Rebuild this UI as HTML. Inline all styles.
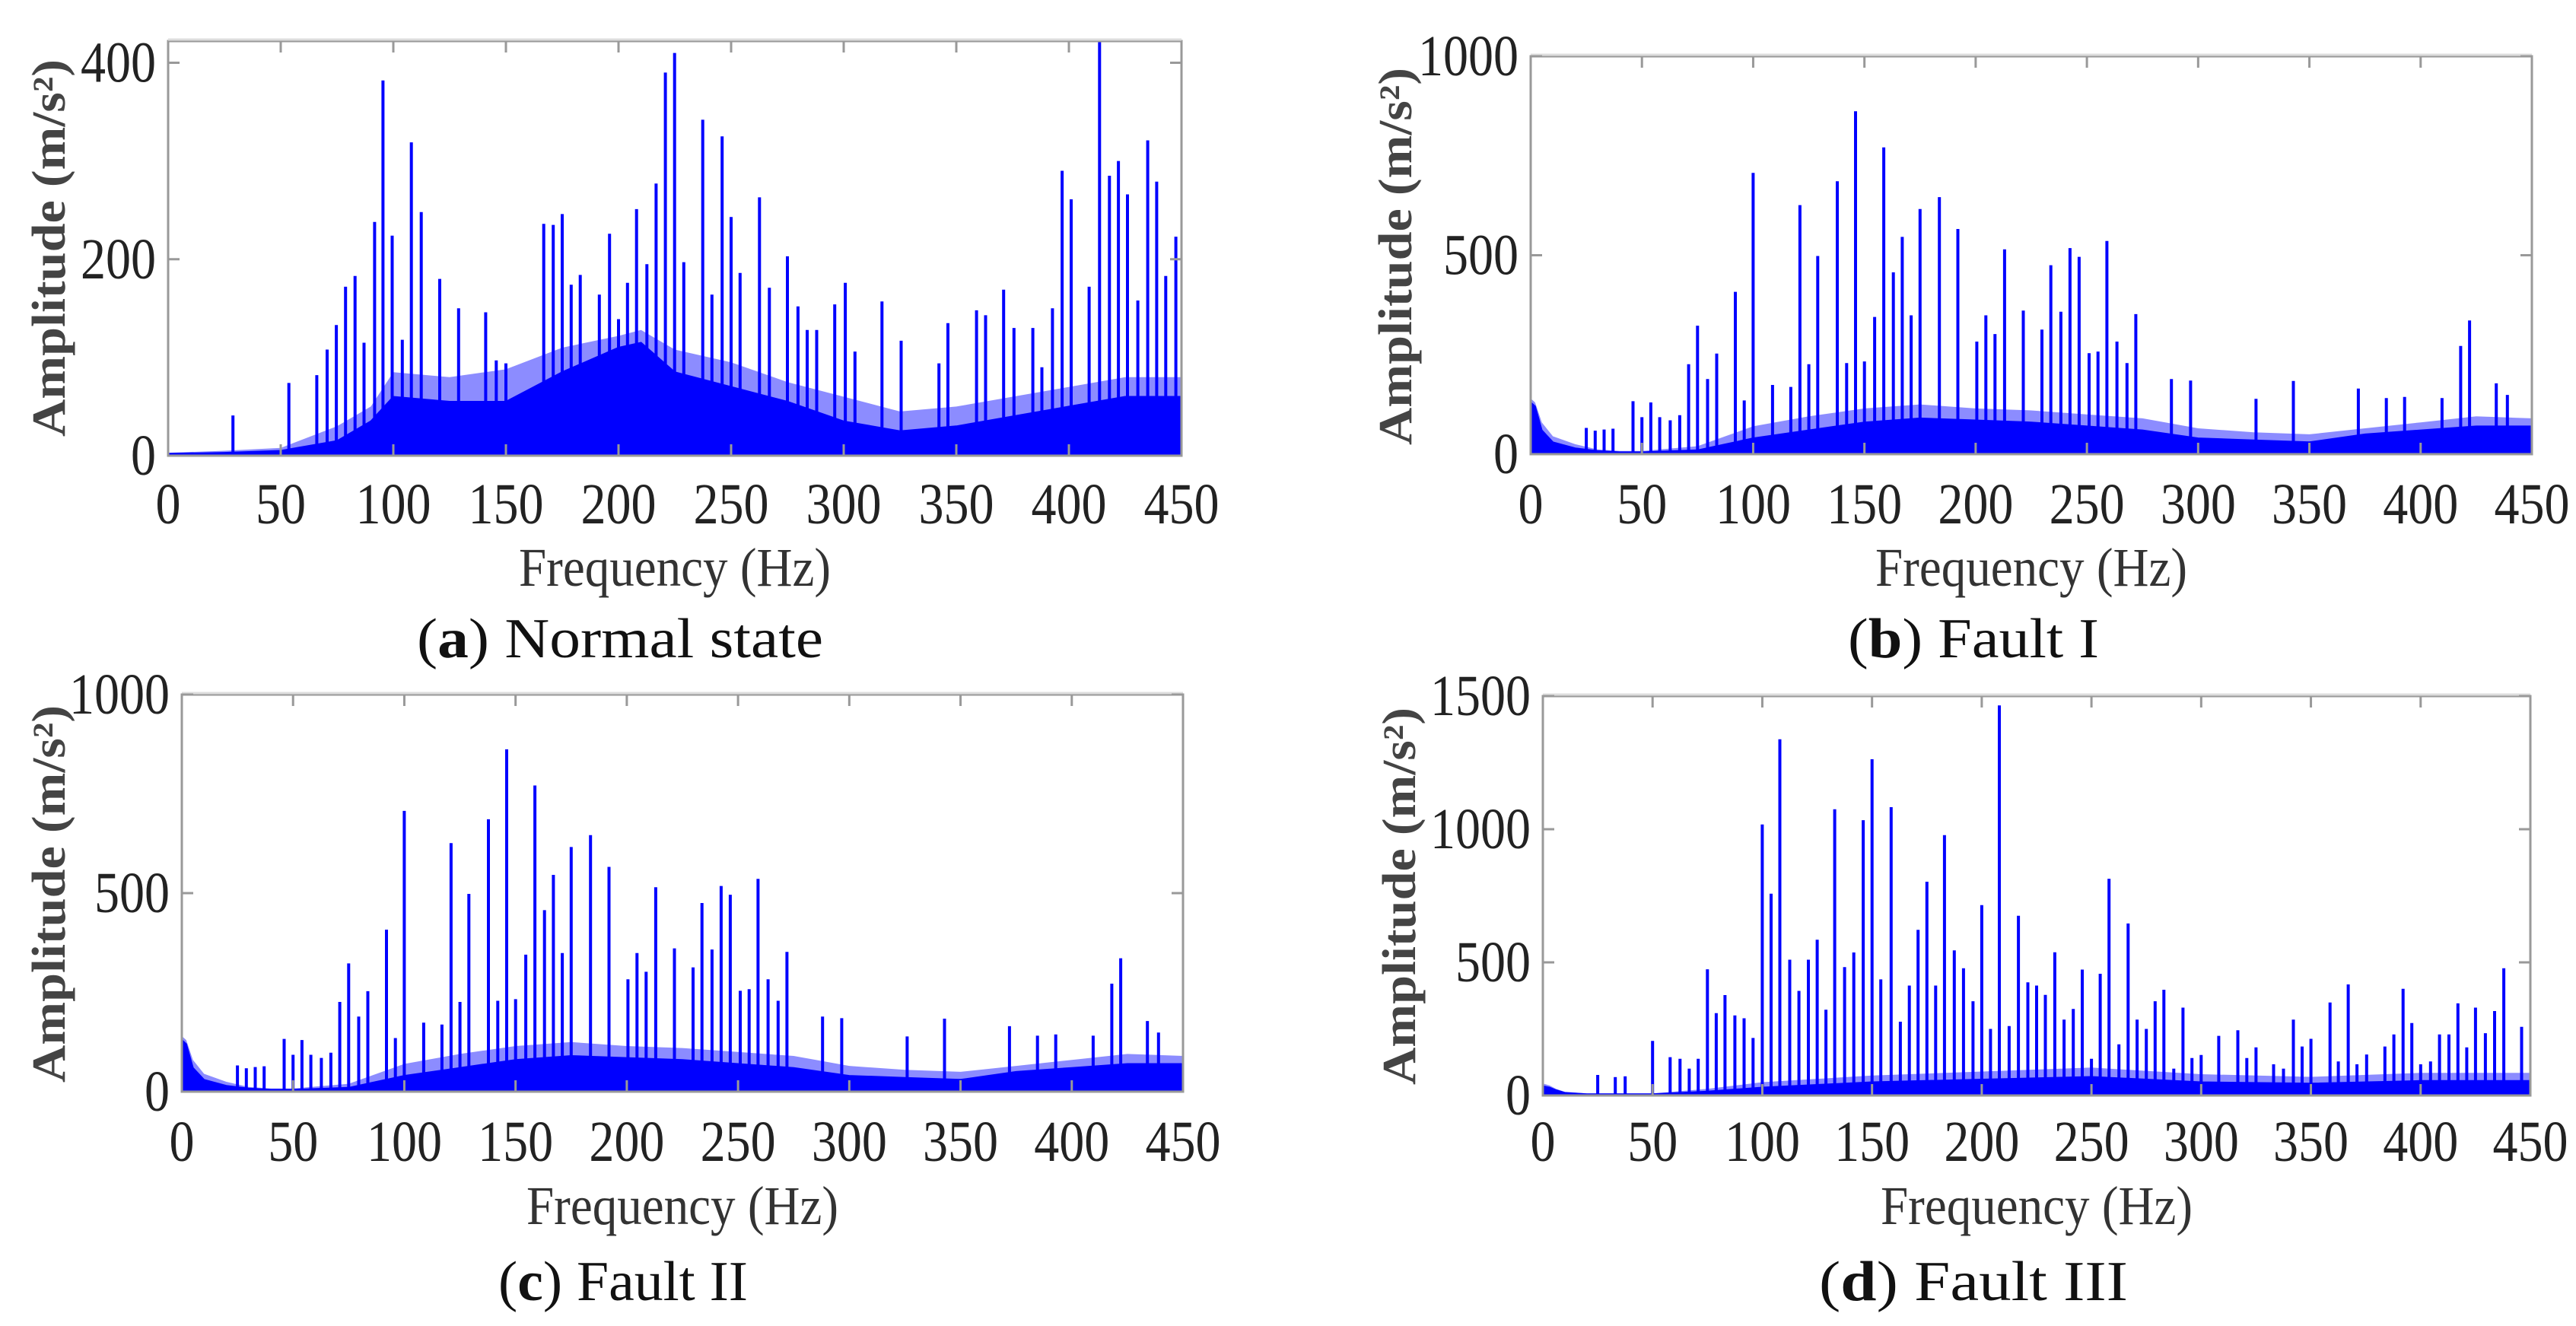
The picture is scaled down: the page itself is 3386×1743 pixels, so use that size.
<!DOCTYPE html>
<html><head><meta charset="utf-8"><style>
html,body{margin:0;padding:0;background:#fff;}
svg{display:block;}
text{font-family:"Liberation Serif",serif;}
</style></head>
<body>
<svg id="fig" width="3386" height="1743" viewBox="0 0 3386 1743" xmlns="http://www.w3.org/2000/svg"></svg>
<script>
// ---------- DATA ----------
const xTicks = [0,50,100,150,200,250,300,350,400,450];
const aYTicks = [0,200,400];
const bYTicks = [0,500,1000];
const dYTicks = [0,500,1000,1500];

// (a) Normal state
const aPeakFreq = [28.8,53.6,66,70.6,74.7,78.8,83,87,91.7,95.4,99.5,104,108,112.4,120.6,129,141,145.7,150,166.8,171,175,179,183,191.5,196,200,204,208,212.6,216.7,220.8,224.9,229,237.4,241.5,246,250,254,262.6,267,275,279.7,283.8,288,296,300.7,305,317,325.5,342.3,346.3,359,363,371,375.6,384,388,392.7,397,401,409,413.6,418,422,426,430.6,435,439,443,447.5];
const aPeakAmp  = [41,74,82,108,133,172,183,115,238,382,224,118,319,248,180,150,146,97,94,236,235,246,174,184,164,226,139,176,251,195,277,390,410,197,342,164,325,243,186,263,171,203,152,128,128,154,176,106,157,117,94,135,148,143,169,130,130,90,150,290,261,172,422,285,300,266,158,321,279,183,223];
const aNoiseFreq = [0,25,50,75,90,100,125,150,175,200,210,225,250,275,300,325,350,375,400,425,450];
const aNoiseAmp  = [2,3,5,15,35,60,55,55,85,110,115,85,70,55,35,25,30,40,50,60,60];
const aNoiseTop  = [3,5,8,30,50,85,80,88,110,122,128,108,95,75,60,45,50,60,70,80,80];

// (b) Fault I  and (c) Fault II
const bPeakFreq = [25,29,33,37,46,50,54,58,62.7,67,71,75,79.5,83.6,92,96,100,108.7,116.9,121,125,129,137.8,142,146,150,154.6,158.7,163,167,171,175,183.7,192,200.5,204.6,208.7,213,221.4,229.8,233.8,238.3,242.4,246.5,251,255,259,263.5,268,272,288,296.6,326,342.8,372,384.6,392.8,409.6,418,422,434,439];
const bPeakAmp  = [66,59,62,64,133,93,130,93,85,98,226,323,189,253,408,135,707,174,169,626,226,498,686,229,862,233,345,771,457,546,349,616,646,566,283,349,302,515,361,313,475,358,518,496,254,258,536,283,229,352,189,185,139,184,165,141,144,141,272,336,178,149];
const bNoiseFreq = [0,2,5,10,20,30,40,50,75,100,125,150,175,200,225,250,275,300,325,350,375,400,425,450];
const bNoiseAmp  = [130,120,60,30,15,8,5,5,10,40,60,80,90,85,80,70,60,40,35,30,50,60,70,70];
const bNoiseTop  = [140,130,80,45,25,12,8,8,20,70,95,115,125,115,110,100,90,65,55,50,65,80,95,90];

// (d) Fault III
const dPeakFreq = [25,33,37.5,50,58,62.5,66.7,70.8,75,79,83,87.5,91.7,95.8,100,104,108,112.5,116.7,121,125,129,133,137.5,141.7,146,150,154,158.7,162.9,167,171,175,179,183,187.5,191.7,196,200,204,208,212.5,216.7,221,225,229,233.3,237.5,241.7,245.8,250,254,258,262.5,266.7,270.8,275,279,283,287.5,291.7,295.8,300,308,316.7,320.8,325,333,337.5,342,346,350,358.7,362.5,367,371,375.4,383.7,387.8,392,396,400,404.5,408.6,412.9,417,421,425,429.5,433.7,437.9,446];
const dPeakAmp  = [77,69,72,205,144,138,101,138,474,309,377,301,290,216,1018,758,1338,510,393,510,585,322,1075,482,537,1034,1263,436,1083,277,413,622,803,413,978,545,478,354,715,250,1465,261,675,425,413,378,538,285,325,473,138,457,814,192,646,285,250,354,397,101,330,141,152,224,245,141,181,117,101,285,184,213,349,128,417,117,154,184,229,401,272,117,128,229,229,346,181,330,234,317,478,258];
const dNoiseFreq = [0,3,6,10,20,50,75,100,150,200,250,300,350,400,450];
const dNoiseAmp  = [35,30,20,10,5,5,15,30,50,60,70,50,45,55,55];
const dNoiseTop  = [45,38,25,14,8,8,25,50,75,90,105,80,70,85,85];

// ---------- LAYOUT ----------
const panels = [
 {id:'a', L:221, R:1553, T:54, y0:599, yTicks:aYTicks, pf:aPeakFreq, pa:aPeakAmp, nf:aNoiseFreq, na:aNoiseAmp, nt:aNoiseTop,
  ylx:65, yly:326, xtY:688, xtitleY:770, capX:815, capY:864, capLetter:'a', capRest:' Normal state', capLen:534},
 {id:'b', L:2012, R:3328, T:74, y0:597, yTicks:bYTicks, pf:bPeakFreq, pa:bPeakAmp, nf:bNoiseFreq, na:bNoiseAmp, nt:bNoiseTop,
  ylx:1835, yly:337, xtY:688, xtitleY:770, capX:2594, capY:864, capLetter:'b', capRest:' Fault I', capLen:330},
 {id:'c', L:239, R:1555, T:913, y0:1435, yTicks:bYTicks, pf:bPeakFreq, pa:bPeakAmp, nf:bNoiseFreq, na:bNoiseAmp, nt:bNoiseTop,
  ylx:65, yly:1175, xtY:1526, xtitleY:1609, capX:819, capY:1709, capLetter:'c', capRest:' Fault II', capLen:328},
 {id:'d', L:2028, R:3326, T:915, y0:1440, yTicks:dYTicks, pf:dPeakFreq, pa:dPeakAmp, nf:dNoiseFreq, na:dNoiseAmp, nt:dNoiseTop,
  ylx:1840, yly:1178, xtY:1526, xtitleY:1609, capX:2594, capY:1709, capLetter:'d', capRest:' Fault III', capLen:406}
];
const yScaleRef = {a:[400,82.5], b:[1000,74], c:[1000,913], d:[1500,915]};

const NS='http://www.w3.org/2000/svg';
const svg=document.getElementById('fig');
function mk(tag, attrs, parent){
  const e=document.createElementNS(NS,tag);
  for(const k in attrs) e.setAttribute(k,attrs[k]);
  (parent||svg).appendChild(e); return e;
}

panels.forEach(p=>{
  const g=mk('g',{});
  
  
  const ref=yScaleRef[p.id];
  const xs=f=>p.L+(p.R-p.L)*f/450;
  const ys=v=>p.y0-(p.y0-ref[1])*v/ref[0];

  function area(vals){
    let d='M'+xs(0)+','+p.y0;
    p.nf.forEach((f,i)=>{ d+=' L'+xs(f).toFixed(1)+','+ys(vals[i]).toFixed(1); });
    return d+' L'+xs(450)+','+p.y0+' Z';
  }
  const fringe=mk('path',{d:area(p.nt),fill:'#0000ff','fill-opacity':0.45,stroke:'none'},g);
  
  
  const noise=mk('path',{d:area(p.na),fill:'#0000ff',stroke:'#0000ff','stroke-width':2},g);
  
  

  p.pf.forEach((f,i)=>{
    const l=mk('line',{x1:xs(f).toFixed(1),x2:xs(f).toFixed(1),y1:p.y0,y2:Math.max(p.T,ys(p.pa[i])).toFixed(1),stroke:'#0000ff','stroke-width':4},g);
    
    
  });

  const box=mk('rect',{x:p.L,y:p.T,width:p.R-p.L,height:p.y0-p.T,fill:'none',stroke:'#999','stroke-width':3},g);
  
  
  mk('line',{x1:p.L,x2:p.R,y1:p.T-2,y2:p.T-2,stroke:'#ddd','stroke-width':3},g);

  xTicks.forEach(t=>{
    const x=xs(t);
    mk('line',{x1:x,x2:x,y1:p.T,y2:p.T+15,stroke:'#999','stroke-width':3},g);
    mk('line',{x1:x,x2:x,y1:p.y0,y2:p.y0-15,stroke:'#999','stroke-width':3},g);
    const s=String(t);
    const tx=mk('text',{x:x,y:p.xtY,'text-anchor':'middle','font-size':76,fill:'#222',textLength:33*s.length,lengthAdjust:'spacingAndGlyphs'},g);
    tx.textContent=s;
    
    
  });
  p.yTicks.forEach(t=>{
    const y=ys(t);
    mk('line',{x1:p.L,x2:p.L+15,y1:y,y2:y,stroke:'#999','stroke-width':3},g);
    mk('line',{x1:p.R,x2:p.R-15,y1:y,y2:y,stroke:'#999','stroke-width':3},g);
    const s=String(t);
    const ty=mk('text',{x:p.L-16,y:y+25,'text-anchor':'end','font-size':76,fill:'#222',textLength:33*s.length,lengthAdjust:'spacingAndGlyphs'},g);
    ty.textContent=s;
    
    
  });

  const xt=mk('text',{x:(p.L+p.R)/2,y:p.xtitleY,'text-anchor':'middle','font-size':72,fill:'#333',textLength:410,lengthAdjust:'spacingAndGlyphs'},g);
  xt.textContent='Frequency (Hz)';
  
  

  const yt=mk('text',{x:0,y:0,'text-anchor':'middle','font-size':62,'font-weight':'bold',fill:'#444',textLength:496,lengthAdjust:'spacingAndGlyphs',transform:'translate('+(p.ylx+20)+','+p.yly+') rotate(-90)'},g);
  yt.textContent='Amplitude (m/s²)';
  
  

  const cap=mk('text',{x:p.capX,y:p.capY,'text-anchor':'middle','font-size':74,fill:'#111',textLength:p.capLen,lengthAdjust:'spacingAndGlyphs'},g);
  
  
  cap.appendChild(document.createTextNode('('));
  const b=mk('tspan',{'font-weight':'bold'},cap); b.textContent=p.capLetter;
  cap.appendChild(document.createTextNode(')'+p.capRest));
});
</script>
</body></html>
